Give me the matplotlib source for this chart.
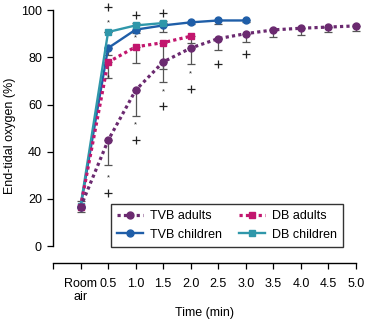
import matplotlib
matplotlib.use("Agg")
import matplotlib.pyplot as plt
import numpy as np

plt.rcParams['font.family'] = ['Liberation Sans', 'DejaVu Sans']

# Data (x: 0 = room air, then minutes)
tick_pos = [-0.5, 0, 0.5, 1.0, 1.5, 2.0, 2.5, 3.0, 3.5, 4.0, 4.5, 5.0]
tick_labels = ["", "Room\nair", "0.5", "1.0", "1.5", "2.0", "2.5", "3.0", "3.5", "4.0", "4.5", "5.0"]

tvb_adults_x = [0, 0.5, 1.0, 1.5, 2.0, 2.5, 3.0, 3.5, 4.0, 4.5, 5.0]
tvb_adults_y = [16.5, 44.8, 66.1, 78.1, 84.0, 88.0, 90.1, 91.7, 92.4, 92.9, 93.4]
tvb_adults_lo = [16.5, 34.3, 55.1, 69.6, 77.4, 83.1, 86.6, 88.7, 89.7, 90.8, 91.2]

db_adults_x = [0, 0.5, 1.0, 1.5, 2.0]
db_adults_y = [16.5, 78.0, 84.5, 86.3, 89.0]
db_adults_lo = [16.5, 71.5, 77.8, 74.9, 86.0]

tvb_children_x = [0, 0.5, 1.0, 1.5, 2.0, 2.5, 3.0]
tvb_children_y = [16.5, 84.0, 91.8, 93.6, 94.9, 95.7, 95.7]
tvb_children_lo = [16.5, 81.2, 90.3, 90.8, 94.0, 94.4, 95.0]

db_children_x = [0, 0.5, 1.0, 1.5]
db_children_y = [16.9, 90.8, 93.6, 94.6]
db_children_lo = [14.5, 90.8, 93.6, 94.6]
db_children_hi = [19.0, 90.8, 94.6, 95.6]

plus_x = [0.5, 1.0, 1.5, 0.5, 1.0, 1.5, 2.0, 2.5, 3.0]
plus_y = [101.4, 98.0, 98.9, 22.7, 44.9, 59.4, 66.5, 77.4, 81.4]
star_x = [0.5, 1.0, 0.5, 0.5, 1.0, 1.5, 2.0]
star_y = [94.7, 88.3, 71.4, 29.1, 51.6, 65.4, 73.2]

c_purple = "#6b2a70"
c_magenta = "#c2166e"
c_blue = "#1f5ea8"
c_teal = "#2f97aa"
c_err = "#555555"

FS = 9

fig = plt.figure(figsize=(3.65, 3.23), dpi=100)
ax = fig.add_axes([0.1452, 0.1858, 0.8301, 0.7895])
ax.set_xlim(-0.5, 5.0)
ax.set_ylim(-7.2, 101)

def lower_err(x, y, lo):
    y = np.array(y); lo = np.array(lo)
    ax.errorbar(x, y, yerr=[y - lo, np.zeros_like(y)], fmt='none', ecolor=c_err,
                elinewidth=0.9, capsize=2.8, capthick=0.9, zorder=2, clip_on=False)

lower_err(tvb_adults_x, tvb_adults_y, tvb_adults_lo)
lower_err(db_adults_x, db_adults_y, db_adults_lo)
lower_err(tvb_children_x, tvb_children_y, tvb_children_lo)
yc = np.array(db_children_y)
ax.errorbar(db_children_x, yc, yerr=[yc - np.array(db_children_lo), np.array(db_children_hi) - yc],
            fmt='none', ecolor=c_err, elinewidth=0.9, capsize=2.8, capthick=0.9, zorder=2)

ax.plot(tvb_children_x, tvb_children_y, '-o', color=c_blue, lw=1.7, ms=5, zorder=3,
        label="TVB children", clip_on=False)
ax.plot(db_children_x, db_children_y, '-s', color=c_teal, lw=1.7, ms=5, zorder=3,
        label="DB children", clip_on=False)
ax.plot(db_adults_x, db_adults_y, linestyle=(0, (1, 1)), marker='s', color=c_magenta,
        lw=2.3, ms=5, zorder=4, label="DB adults", clip_on=False)
ax.plot(tvb_adults_x, tvb_adults_y, linestyle=(0, (1, 1)), marker='o', color=c_purple,
        lw=2.3, ms=5, zorder=4, label="TVB adults", clip_on=False)

ax.scatter(plus_x, plus_y, marker='+', s=30, color='#222222', linewidths=0.9, zorder=5, clip_on=False)
for sx, sy in zip(star_x, star_y):
    ax.text(sx, sy, "*", ha='center', va='center', fontsize=5.5, color='#222222', zorder=5)

ax.spines['top'].set_visible(False)
ax.spines['right'].set_visible(False)
ax.spines['left'].set_bounds(0, 100)
ax.spines['bottom'].set_bounds(-0.5, 5.0)
for s in ('left', 'bottom'):
    ax.spines[s].set_linewidth(1.0)

ax.set_yticks([0, 20, 40, 60, 80, 100])
ax.set_xticks(tick_pos)
ax.set_xticklabels(tick_labels, linespacing=1.05)
ax.tick_params(axis='both', labelsize=FS, length=4, width=0.9, color='black')
ax.tick_params(axis='x', pad=7)
ax.tick_params(axis='y', pad=4)
ax.set_ylabel("End-tidal oxygen (%)", fontsize=FS, va='center')
ax.yaxis.set_label_coords((10 - 53) / 303, 0.5)
ax.set_xlabel("Time (min)", fontsize=FS, va='center')
ax.xaxis.set_label_coords(0.5, (263 - 313) / 255)

h, l = ax.get_legend_handles_labels()
leg = ax.legend([h[i] for i in [3, 0, 2, 1]], [l[i] for i in [3, 0, 2, 1]], ncol=2,
                loc='lower right', bbox_to_anchor=(0.957, 0.063), fontsize=FS,
                frameon=True, fancybox=False, edgecolor='black', handlelength=2.1,
                columnspacing=1.4, borderpad=0.5, labelspacing=0.5, handletextpad=0.5,
                borderaxespad=0)
leg.get_frame().set_linewidth(1.0)

fig.savefig("out.png", dpi=100)
